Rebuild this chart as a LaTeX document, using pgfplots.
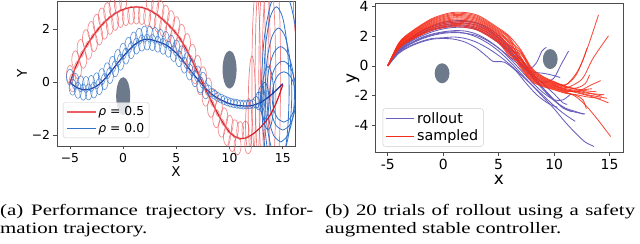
\documentclass[border=0pt]{standalone}
\usepackage{fontspec}
\setmainfont{DejaVu Sans}
\newfontfamily\capfont[FakeStretch=1.31]{Liberation Serif}
\usepackage{pgfplots}
\pgfplotsset{compat=1.18}
\definecolor{redloop}{RGB}{236,95,98}
\definecolor{redmain}{RGB}{212,25,35}
\definecolor{blueloop}{RGB}{50,115,200}
\definecolor{bluemain}{RGB}{28,55,160}
\definecolor{obs}{RGB}{108,122,140}
\definecolor{rollout}{RGB}{104,94,188}
\definecolor{sampled}{RGB}{245,45,25}
\pgfdeclareplotmark{vell}{\pgfpathellipse{\pgfpointorigin}{\pgfqpoint{3.5bp}{0pt}}{\pgfqpoint{0pt}{\pgfplotmarksize}}\pgfusepathqstroke}
\pgfdeclareplotmark{obsA}{\pgfpathellipse{\pgfpointorigin}{\pgfqpoint{7bp}{0pt}}{\pgfqpoint{0pt}{19bp}}\pgfusepathqfill}
\pgfdeclareplotmark{obsB}{\pgfpathellipse{\pgfpointorigin}{\pgfqpoint{7.4bp}{0pt}}{\pgfqpoint{0pt}{10bp}}\pgfusepathqfill}
\begin{document}
\frenchspacing
\begin{tikzpicture}
\useasboundingbox (0,0) rectangle (640bp,244bp);
% ---------------- left panel ----------------
\begin{axis}[at={(57bp,98bp)}, anchor=south west,
  width=238bp, height=145bp, scale only axis,
  xmin=-6.22, xmax=16.15, ymin=-2.4, ymax=3.07,
  xtick={-5,0,5,10,15}, xticklabels={−5,0,5,10,15},
  ytick={-2,0,2}, yticklabels={−2,0,2},
  tick pos=left, tick align=outside, major tick length=3.5bp,
  tick style={black!70, line width=0.6bp},
  axis line style={black!70, line width=0.7bp},
  ticklabel style={font=\fontsize{12.4}{14}\selectfont},
  xlabel={X}, ylabel={Y},
  every axis x label/.style={at={(axis description cs:0.5,-0.18)}, anchor=center, font=\fontsize{13.5}{15}\selectfont},
  every axis y label/.style={at={(axis description cs:-0.147,0.5)}, anchor=center, rotate=90, font=\fontsize{13.5}{15}\selectfont},
  legend style={at={(axis description cs:0.025,0.055)}, anchor=south west,
    draw=black!20, fill=white, fill opacity=0.8, text opacity=1,
    rounded corners=2.5bp, font=\fontsize{12.4}{14}\selectfont,
    inner xsep=3bp, inner ysep=2bp, row sep=2bp},
  legend cell align=left,
  legend image code/.code={\draw[#1, line width=1.3bp] (0bp,0bp) -- (29bp,0bp);},
]
\addlegendimage{redloop}
\addlegendentry{\textit{ρ} = 0.5}
\addlegendimage{blueloop}
\addlegendentry{\textit{ρ} = 0.0}
% red loops
\addplot[forget plot, only marks, mark=vell, mark size=9bp, redloop, draw opacity=0.7, line width=0.7bp] coordinates {
(-5,0.3) (-4.5,0.85) (-4,1.28) (-3.5,1.65) (-3,1.96) (-2.5,2.23) (-2,2.47) (-1.5,2.67) (-1,2.83) (-0.5,2.96) (0,3.05) (0.5,3.11) (1,3.14) (1.5,3.14) (2,3.1) (2.5,3.02) (3,2.9) (3.5,2.75) (4,2.57) (4.5,2.37) (5,2.14) (5.5,1.85) (6,1.5) (6.5,1.1) (7,0.68) (7.5,0.25) (8,-0.17) (8.5,-0.58) (9,-0.96) (9.5,-1.3) (10,-1.58) (10.5,-1.75) (11,-1.82) (11.5,-1.8)};
\addplot[forget plot, only marks, mark=vell, mark size=9bp, redloop, draw opacity=0.7, line width=0.7bp] coordinates {
(-4.75,-0.02) (-4.25,0.47) (-3.75,0.87) (-3.25,1.21) (-2.75,1.5) (-2.25,1.75) (-1.75,1.97) (-1.25,2.15) (-0.75,2.3) (-0.25,2.41) (0.25,2.48) (0.75,2.53) (1.25,2.54) (1.75,2.52) (2.25,2.46) (2.75,2.36) (3.25,2.23) (3.75,2.06) (4.25,1.87) (4.75,1.66) (5.25,1.4) (5.75,1.08) (6.25,0.7) (6.75,0.29) (7.25,-0.13) (7.75,-0.56) (8.25,-0.98) (8.75,-1.37) (9.25,-1.73) (9.75,-2.04) (10.25,-2.27) (10.75,-2.39) (11.25,-2.41) (11.75,-2.35)};
% blue loops
\addplot[forget plot, only marks, mark=vell, mark size=8bp, blueloop, draw opacity=0.8, line width=0.6bp] coordinates {
(-5,0.2) (-4.5,0.04) (-4,-0.05) (-3.5,-0.08) (-3,-0.04) (-2.5,0.06) (-2,0.22) (-1.5,0.44) (-1,0.68) (-0.5,0.94) (0,1.18) (0.5,1.4) (1,1.6) (1.5,1.74) (2,1.82) (2.5,1.82) (3,1.77) (3.5,1.7) (4,1.62) (4.5,1.48) (5,1.3) (5.5,1.08) (6,0.82) (6.5,0.56) (7,0.32) (7.5,0.08)};
\addplot[forget plot, only marks, mark=vell, mark size=8bp, blueloop, draw opacity=0.8, line width=0.6bp] coordinates {
(-4.75,-0.18) (-4.25,-0.3) (-3.75,-0.37) (-3.25,-0.36) (-2.75,-0.29) (-2.25,-0.16) (-1.75,0.03) (-1.25,0.26) (-0.75,0.51) (-0.25,0.76) (0.25,0.99) (0.75,1.2) (1.25,1.37) (1.75,1.48) (2.25,1.52) (2.75,1.5) (3.25,1.44) (3.75,1.36) (4.25,1.25) (4.75,1.09) (5.25,0.89) (5.75,0.65) (6.25,0.39) (6.75,0.14) (7.25,-0.1) (7.75,-0.32)};
\addplot[forget plot, only marks, mark=vell, mark size=4.5bp, blueloop, draw opacity=0.8, line width=0.6bp] coordinates {
(8,-0.27) (8.3,-0.39) (8.6,-0.47) (8.9,-0.55) (9.2,-0.61) (9.5,-0.67) (9.8,-0.72) (10.1,-0.76) (10.4,-0.79) (10.7,-0.81) (11,-0.83) (11.3,-0.84) (11.6,-0.84) (11.9,-0.83) (12.2,-0.81)};
\addplot[forget plot, only marks, mark=vell, mark size=6bp, blueloop, line width=0.6bp] coordinates {(12.5,-0.75)};
\addplot[forget plot, only marks, mark=vell, mark size=9bp, blueloop, line width=0.6bp] coordinates {(12.75,-0.7)};
\addplot[forget plot, only marks, mark=vell, mark size=13bp, blueloop, line width=0.6bp] coordinates {(13.0,-0.62)};
% big red ellipses
\addplot[forget plot, smooth, redloop, draw opacity=0.8, line width=0.7bp] coordinates {(12.5,-3.1) (12.7,-2.66) (12.85,-1.45) (12.9,0.2) (12.85,1.85) (12.7,3.06) (12.5,3.5) (12.3,3.06) (12.15,1.85) (12.1,0.2) (12.15,-1.45) (12.3,-2.66) (12.5,-3.1)};
\addplot[forget plot, smooth, redloop, draw opacity=0.8, line width=0.7bp] coordinates {(12.9,-3.5) (13.15,-2.99) (13.33,-1.6) (13.4,0.3) (13.33,2.2) (13.15,3.59) (12.9,4.1) (12.65,3.59) (12.47,2.2) (12.4,0.3) (12.47,-1.6) (12.65,-2.99) (12.9,-3.5)};
\addplot[forget plot, smooth, redloop, draw opacity=0.8, line width=0.7bp] coordinates {(13.3,-3.8) (13.58,-3.26) (13.78,-1.8) (13.85,0.2) (13.78,2.2) (13.58,3.66) (13.3,4.2) (13.03,3.66) (12.82,2.2) (12.75,0.2) (12.82,-1.8) (13.03,-3.26) (13.3,-3.8)};
\addplot[forget plot, smooth, redloop, draw opacity=0.8, line width=0.7bp] coordinates {(13.7,-4.2) (14.03,-3.64) (14.26,-2.1) (14.35,0) (14.26,2.1) (14.03,3.64) (13.7,4.2) (13.38,3.64) (13.14,2.1) (13.05,0) (13.14,-2.1) (13.38,-3.64) (13.7,-4.2)};
\addplot[forget plot, smooth, redloop, draw opacity=0.8, line width=0.7bp] coordinates {(14.2,-4.0) (14.5,-3.42) (14.72,-1.85) (14.8,0.3) (14.72,2.45) (14.5,4.02) (14.2,4.6) (13.9,4.02) (13.68,2.45) (13.6,0.3) (13.68,-1.85) (13.9,-3.42) (14.2,-4.0)};
\addplot[forget plot, smooth, redloop, draw opacity=0.8, line width=0.7bp] coordinates {(17,1) (17.5,1.27) (17.87,2) (18,3) (17.87,4) (17.5,4.73) (17,5) (16.5,4.73) (16.13,4) (16,3) (16.13,2) (16.5,1.27) (17,1)};
\addplot[forget plot, smooth, redloop, draw opacity=0.8, line width=0.7bp] coordinates {(11.8,-2.6) (11.95,-2.47) (12.06,-2.1) (12.1,-1.6) (12.06,-1.1) (11.95,-0.73) (11.8,-0.6) (11.65,-0.73) (11.54,-1.1) (11.5,-1.6) (11.54,-2.1) (11.65,-2.47) (11.8,-2.6)};
\addplot[forget plot, smooth, redloop, draw opacity=0.8, line width=0.7bp] coordinates {(12.1,-3) (12.28,-2.73) (12.4,-2) (12.45,-1) (12.4,0) (12.28,0.73) (12.1,1) (11.93,0.73) (11.8,0) (11.75,-1) (11.8,-2) (11.93,-2.73) (12.1,-3)};
% big blue ellipses
\addplot[forget plot, smooth, blueloop, line width=0.8bp] coordinates {(14.8,-4.1) (15.7,-3.59) (16.36,-2.2) (16.6,-0.3) (16.36,1.6) (15.7,2.99) (14.8,3.5) (13.9,2.99) (13.24,1.6) (13.0,-0.3) (13.24,-2.2) (13.9,-3.59) (14.8,-4.1)};
\addplot[forget plot, smooth, blueloop, line width=0.8bp] coordinates {(14.4,-3.45) (15.0,-3.03) (15.44,-1.88) (15.6,-0.3) (15.44,1.28) (15.0,2.43) (14.4,2.85) (13.8,2.43) (13.36,1.28) (13.2,-0.3) (13.36,-1.88) (13.8,-3.03) (14.4,-3.45)};
\addplot[forget plot, smooth, blueloop, line width=0.8bp] coordinates {(14.6,-2.85) (15.23,-2.52) (15.68,-1.63) (15.85,-0.4) (15.68,0.83) (15.23,1.72) (14.6,2.05) (13.98,1.72) (13.52,0.83) (13.35,-0.4) (13.52,-1.63) (13.98,-2.52) (14.6,-2.85)};
\addplot[forget plot, smooth, blueloop, line width=0.8bp] coordinates {(14.8,-2.25) (15.45,-2.01) (15.93,-1.35) (16.1,-0.45) (15.93,0.45) (15.45,1.11) (14.8,1.35) (14.15,1.11) (13.67,0.45) (13.5,-0.45) (13.67,-1.35) (14.15,-2.01) (14.8,-2.25)};
\addplot[forget plot, smooth, blueloop, line width=0.8bp] coordinates {(15,-1.8) (15.63,-1.63) (16.08,-1.15) (16.25,-0.5) (16.08,0.15) (15.63,0.63) (15,0.8) (14.38,0.63) (13.92,0.15) (13.75,-0.5) (13.92,-1.15) (14.38,-1.63) (15,-1.8)};
\addplot[forget plot, smooth, blueloop, line width=0.8bp] coordinates {(15.1,-1.5) (15.65,-1.37) (16.05,-1.03) (16.2,-0.55) (16.05,-0.08) (15.65,0.27) (15.1,0.4) (14.55,0.27) (14.15,-0.08) (14.0,-0.55) (14.15,-1.03) (14.55,-1.37) (15.1,-1.5)};
\addplot[forget plot, smooth, blueloop, line width=0.8bp] coordinates {(13.6,-1.8) (13.88,-1.64) (14.08,-1.2) (14.15,-0.6) (14.08,0) (13.88,0.44) (13.6,0.6) (13.33,0.44) (13.12,0) (13.05,-0.6) (13.12,-1.2) (13.33,-1.64) (13.6,-1.8)};
\addplot[forget plot, smooth, blueloop, line width=0.8bp] coordinates {(13.3,-1.4) (13.5,-1.31) (13.65,-1.05) (13.7,-0.7) (13.65,-0.35) (13.5,-0.09) (13.3,0) (13.1,-0.09) (12.95,-0.35) (12.9,-0.7) (12.95,-1.05) (13.1,-1.31) (13.3,-1.4)};
% main lines
\addplot[forget plot, smooth, redmain, line width=1.2bp] coordinates {
(-5,0) (-4.5,0.55) (-4,0.98) (-3.5,1.35) (-3,1.66) (-2.5,1.93) (-2,2.17) (-1.5,2.37) (-1,2.53) (-0.5,2.66) (0,2.75) (0.5,2.81) (1,2.84) (1.5,2.84) (2,2.8) (2.5,2.72) (3,2.6) (3.5,2.45) (4,2.27) (4.5,2.07) (5,1.84) (5.5,1.55) (6,1.2) (6.5,0.8) (7,0.38) (7.5,-0.05) (8,-0.47) (8.5,-0.88) (9,-1.26) (9.5,-1.6) (10,-1.88) (10.5,-2.05) (11,-2.12) (11.5,-2.1) (12,-2.0) (12.5,-1.85) (13,-1.66) (13.5,-1.42) (14,-1.1) (14.5,-0.66) (15,-0.1)};
\addplot[forget plot, smooth, bluemain, line width=1.2bp] coordinates {
(-5,0) (-4.5,-0.16) (-4,-0.25) (-3.5,-0.28) (-3,-0.24) (-2.5,-0.14) (-2,0.02) (-1.5,0.24) (-1,0.48) (-0.5,0.74) (0,0.98) (0.5,1.2) (1,1.4) (1.5,1.54) (2,1.62) (2.5,1.62) (3,1.57) (3.5,1.5) (4,1.42) (4.5,1.28) (5,1.1) (5.5,0.88) (6,0.62) (6.5,0.36) (7,0.12) (7.5,-0.12) (8,-0.32) (8.5,-0.5) (9,-0.62) (9.5,-0.72) (10,-0.8) (10.5,-0.85) (11,-0.88) (11.5,-0.89) (12,-0.88) (12.5,-0.83) (13,-0.74) (13.5,-0.6) (14,-0.44) (14.5,-0.25) (15,-0.05)};
% obstacles
\addplot[forget plot, only marks, mark=obsA, obs] coordinates {(0,-0.52) (10,0.48)};
\end{axis}
% ---------------- right panel ----------------
\begin{axis}[at={(375bp,91.3bp)}, anchor=south west,
  width=248bp, height=149.4bp, scale only axis,
  xmin=-6.15, xmax=16.21, ymin=-5.87, ymax=4.23,
  xtick={-5,0,5,10,15}, xticklabels={-5,0,5,10,15},
  ytick={-4,-2,0,2,4}, yticklabels={-4,-2,0,2,4},
  tick pos=left, tick align=outside, major tick length=3bp,
  tick style={black!70, line width=0.6bp},
  axis line style={black!70, line width=0.7bp},
  ticklabel style={font=\fontsize{14}{16}\selectfont},
  xlabel={x}, ylabel={y},
  every axis x label/.style={at={(axis description cs:0.5,-0.185)}, anchor=center, inner sep=0pt, font=\fontsize{17}{19}\selectfont},
  every axis y label/.style={at={(axis description cs:-0.089,0.5)}, anchor=center, rotate=90, font=\fontsize{17}{19}\selectfont},
  legend style={at={(axis description cs:0.031,0.041)}, anchor=south west,
    draw=black!20, fill=white, fill opacity=0.8, text opacity=1,
    rounded corners=2.5bp, font=\fontsize{14.4}{16}\selectfont,
    inner xsep=3bp, inner ysep=2bp, row sep=1bp},
  legend cell align=left,
  legend image code/.code={\draw[#1, line width=1.2bp] (0bp,0bp) -- (28bp,0bp);},
  every axis plot/.append style={line width=0.85bp},
]
\addlegendimage{rollout}
\addlegendentry{rollout}
\addlegendimage{sampled}
\addlegendentry{sampled}
\addplot[forget plot, only marks, mark=obsB, obs] coordinates {(-0.1,-0.5) (9.65,0.46)};
% rollout
\addplot[forget plot, smooth, rollout] coordinates {(-5,0) (-4,1.0) (-3,1.5) (-2,1.85) (-1,2.1) (0,2.25) (1,2.3) (2,2.2) (3,1.95) (4,1.55) (5,1.0) (6,0.3) (7,-0.5) (8,-1.3) (9,-2.1) (10,-2.9) (11,-3.8) (12,-4.6) (12.8,-5.15) (13.6,-5.45)};
\addplot[forget plot, smooth, rollout] coordinates {(-5,0) (-4,0.9) (-3,1.35) (-2,1.65) (-1,1.85) (0,1.9) (1,1.95) (2,1.85) (3,1.6) (4,1.2) (5,0.7) (6,0.1) (7,-0.6) (8,-1.3) (9,-2.0) (10,-2.7) (11,-3.3) (11.9,-3.75)};
\addplot[forget plot, smooth, rollout] coordinates {(-5,0) (-4,1.1) (-3,1.7) (-2,2.15) (-1,2.45) (0,2.65) (1,2.75) (2,2.75) (3,2.6) (4,2.25) (5,1.7) (6,1.0) (7,0.2) (8,-0.6) (9,-1.5) (10,-2.3) (11,-2.9) (12,-3.15) (12.8,-3.25)};
\addplot[forget plot, smooth, rollout] coordinates {(-5,0) (-4,1.15) (-3,1.8) (-2,2.3) (-1,2.65) (0,2.85) (1,2.95) (2,3.0) (3,2.9) (4,2.6) (5,2.05) (6,1.3) (7,0.5) (7.8,-0.15) (8.4,0.2) (8.9,1.0) (9.3,1.25)};
\addplot[forget plot, smooth, rollout] coordinates {(-5,0) (-4,1.0) (-3,1.6) (-2,2.0) (-1,2.3) (0,2.5) (1,2.6) (2,2.6) (3,2.45) (4,2.1) (5,1.6) (6,0.9) (7,0.1) (8,-0.6) (9,-1.1) (9.95,-0.85) (10.6,0.05) (11.3,1.0)};
\addplot[forget plot, smooth, rollout] coordinates {(-5,0) (-4,0.95) (-3,1.45) (-2,1.8) (-1,2.05) (0,2.2) (1,2.25) (2,2.2) (3,2.05) (4,1.7) (5,1.2) (6,0.6) (7,0.0) (8,-0.4) (9,-0.5) (9.8,-0.62) (10.55,-0.79)};
\addplot[forget plot, smooth, rollout] coordinates {(-5,0) (-4,0.85) (-3,1.3) (-2,1.6) (-1,1.8) (0,1.85) (1,1.8) (2,1.6) (3,1.2) (4,0.6) (4.5,0.3) (5.5,0.25) (6.5,-0.3) (7.5,-1.2) (8.5,-2.0) (9.5,-2.55) (10.3,-2.8)};
\addplot[forget plot, smooth, rollout] coordinates {(-5,0) (-4,1.2) (-3,1.85) (-2,2.35) (-1,2.7) (0,2.95) (1,3.05) (2,3.05) (3,2.9) (4,2.5) (5,1.9) (6,1.1) (7,0.2) (8,-0.7) (9,-1.5) (10,-2.3) (10.8,-2.85) (11.6,-3.1)};
\addplot[forget plot, smooth, rollout] coordinates {(-5,0) (-4,0.95) (-3,1.5) (-2,1.9) (-1,2.15) (0,2.3) (1,2.38) (2,2.35) (3,2.15) (4,1.75) (5,1.2) (6,0.5) (7,-0.3) (8,-1.1) (9,-1.8) (10,-2.3) (10.8,-2.3) (11.5,-1.9)};
\addplot[forget plot, smooth, rollout] coordinates {(-5,0) (-4,1.05) (-3,1.65) (-2,2.1) (-1,2.4) (0,2.6) (1,2.7) (2,2.68) (3,2.5) (4,2.1) (5,1.55) (6,0.85) (7,0.05) (8,-0.75) (9,-1.6) (10,-2.35) (11,-2.85) (12,-3.1) (12.65,-3.27)};
\addplot[forget plot, smooth, rollout] coordinates {(-5,0) (-4,1.1) (-3,1.75) (-2,2.2) (-1,2.55) (0,2.75) (1,2.85) (2,2.88) (3,2.75) (4,2.4) (5,1.85) (6,1.2) (7,0.4) (8,-0.5) (9,-1.2) (10,-1.9) (10.8,-2.5) (11.2,-2.6)};
% sampled
\addplot[forget plot, smooth, sampled, draw opacity=0.85] coordinates {(-5,0) (-4,1.55) (-3,2.25) (-1,3.2) (1,3.62) (3,3.45) (5,2.55) (6,1.98) (7,1.08) (8,-0.16) (9,-0.72) (10,-1.06) (11,-1.28) (12,-0.6) (13,1.2) (14,3.45)};
\addplot[forget plot, smooth, sampled, draw opacity=0.85] coordinates {(-5,0) (-4,1.52) (-3,2.21) (-1,3.14) (1,3.55) (3,3.37) (5,2.47) (6,1.88) (7,0.60) (8,-0.51) (9,-0.98) (10,-1.28) (11,-1.50) (12.5,-0.9) (13.5,0.5) (14.9,2.03)};
\addplot[forget plot, smooth, sampled, draw opacity=0.85] coordinates {(-5,0) (-4,1.49) (-3,2.17) (-1,3.08) (1,3.47) (3,3.29) (5,2.39) (6,1.77) (7,0.13) (8,-0.85) (9,-1.24) (10,-1.49) (11,-1.72) (12,-1.75) (13,-1.95) (14.77,-2.19)};
\addplot[forget plot, smooth, sampled, draw opacity=0.85] coordinates {(-5,0) (-4,1.46) (-3,2.12) (-1,3.02) (1,3.40) (3,3.21) (5,2.31) (6,1.67) (7,0.98) (8,-0.23) (9,-0.77) (10,-1.10) (11,-1.32) (12,-0.5) (12.6,0.4) (12.96,1.19)};
\addplot[forget plot, smooth, sampled, draw opacity=0.85] coordinates {(-5,0) (-4,1.43) (-3,2.08) (-1,2.95) (1,3.32) (3,3.14) (5,2.24) (6,1.56) (7,0.51) (8,-0.58) (9,-1.03) (10,-1.32) (11,-1.54) (12.3,-1.65) (13.3,-1.3) (14.2,-1.0)};
\addplot[forget plot, smooth, sampled, draw opacity=0.85] coordinates {(-5,0) (-4,1.40) (-3,2.04) (-1,2.89) (1,3.25) (3,3.06) (5,2.16) (6,1.46) (7,0.03) (8,-0.92) (9,-1.30) (10,-1.53) (11,-1.76) (12,-2.1) (13,-2.8) (14,-3.7) (15.1,-4.78)};
\addplot[forget plot, smooth, sampled, draw opacity=0.85] coordinates {(-5,0) (-4,1.37) (-3,2.0) (-1,2.83) (1,3.17) (3,2.98) (5,2.08) (6,1.36) (7,0.89) (8,-0.30) (9,-0.82) (10,-1.15) (11,-1.37) (12,-1.6) (13,-1.8) (14.3,-2.05)};
\addplot[forget plot, smooth, sampled, draw opacity=0.85] coordinates {(-5,0) (-4,1.33) (-3,1.95) (-1,2.77) (1,3.10) (3,2.90) (5,2.0) (6,1.25) (7,0.41) (8,-0.64) (9,-1.09) (10,-1.36) (11,-1.59) (12.2,-1.85) (13.5,-2.1) (14.9,-2.5)};
\addplot[forget plot, smooth, sampled, draw opacity=0.85] coordinates {(-5,0) (-4,1.30) (-3,1.91) (-1,2.71) (1,3.02) (3,2.82) (5,1.92) (6,1.15) (7,-0.06) (8,-0.99) (9,-1.35) (10,-1.58) (11,-1.81) (12,-2.0) (12.6,-2.3) (12.9,-2.9)};
\addplot[forget plot, smooth, sampled, draw opacity=0.85] coordinates {(-5,0) (-4,1.27) (-3,1.87) (-1,2.65) (1,2.95) (3,2.74) (5,1.84) (6,1.05) (7,0.79) (8,-0.37) (9,-0.88) (10,-1.19) (11,-1.41) (12,-1.55) (13,-1.7) (13.8,-1.75)};
\addplot[forget plot, smooth, sampled, draw opacity=0.85] coordinates {(-5,0) (-4,1.24) (-3,1.83) (-1,2.58) (1,2.87) (3,2.67) (5,1.77) (6,0.94) (7,0.32) (8,-0.71) (9,-1.14) (10,-1.40) (11,-1.63) (12,-1.7) (13,-1.85) (14.5,-1.95)};
\addplot[forget plot, smooth, sampled, draw opacity=0.85] coordinates {(-5,0) (-4,1.21) (-3,1.78) (-1,2.52) (1,2.80) (3,2.59) (5,1.69) (6,0.84) (7,-0.16) (8,-1.06) (9,-1.40) (10,-1.62) (11,-1.85) (12,-1.95) (13,-2.1) (14.2,-2.2)};
\addplot[forget plot, smooth, sampled, draw opacity=0.85] coordinates {(-5,0) (-4,1.18) (-3,1.74) (-1,2.46) (1,2.72) (3,2.51) (5,1.61) (6,0.73) (7,0.45) (8,-0.44) (9,-0.93) (10,-1.23) (11,-1.46) (12,-1.5) (12.8,-1.2) (13.2,-0.6)};
\addplot[forget plot, smooth, sampled, draw opacity=0.85] coordinates {(-5,0) (-4,1.15) (-3,1.70) (-1,2.40) (1,2.65) (3,2.43) (5,1.53) (6,0.63) (7,0.22) (8,-0.78) (9,-1.19) (10,-1.45) (11,-1.67) (12,-1.75) (12.8,-1.6) (13.4,-1.55)};
\end{axis}
% ---------------- captions ----------------
\node[anchor=base west, inner sep=0pt] at (0bp,29bp) {\capfont\fontsize{16}{18}\selectfont\makebox[313bp][s]{(a) Performance trajectory vs. Infor-}};
\node[anchor=base west, inner sep=0pt] at (0bp,10.7bp) {\capfont\fontsize{16}{18}\selectfont mation trajectory.};
\node[anchor=base west, inner sep=0pt] at (325bp,29bp) {\capfont\fontsize{16}{18}\selectfont\makebox[310bp][s]{(b) 20 trials of rollout using a safety}};
\node[anchor=base west, inner sep=0pt] at (325bp,10.7bp) {\capfont\fontsize{16}{18}\selectfont augmented stable controller.};
\end{tikzpicture}
\end{document}
